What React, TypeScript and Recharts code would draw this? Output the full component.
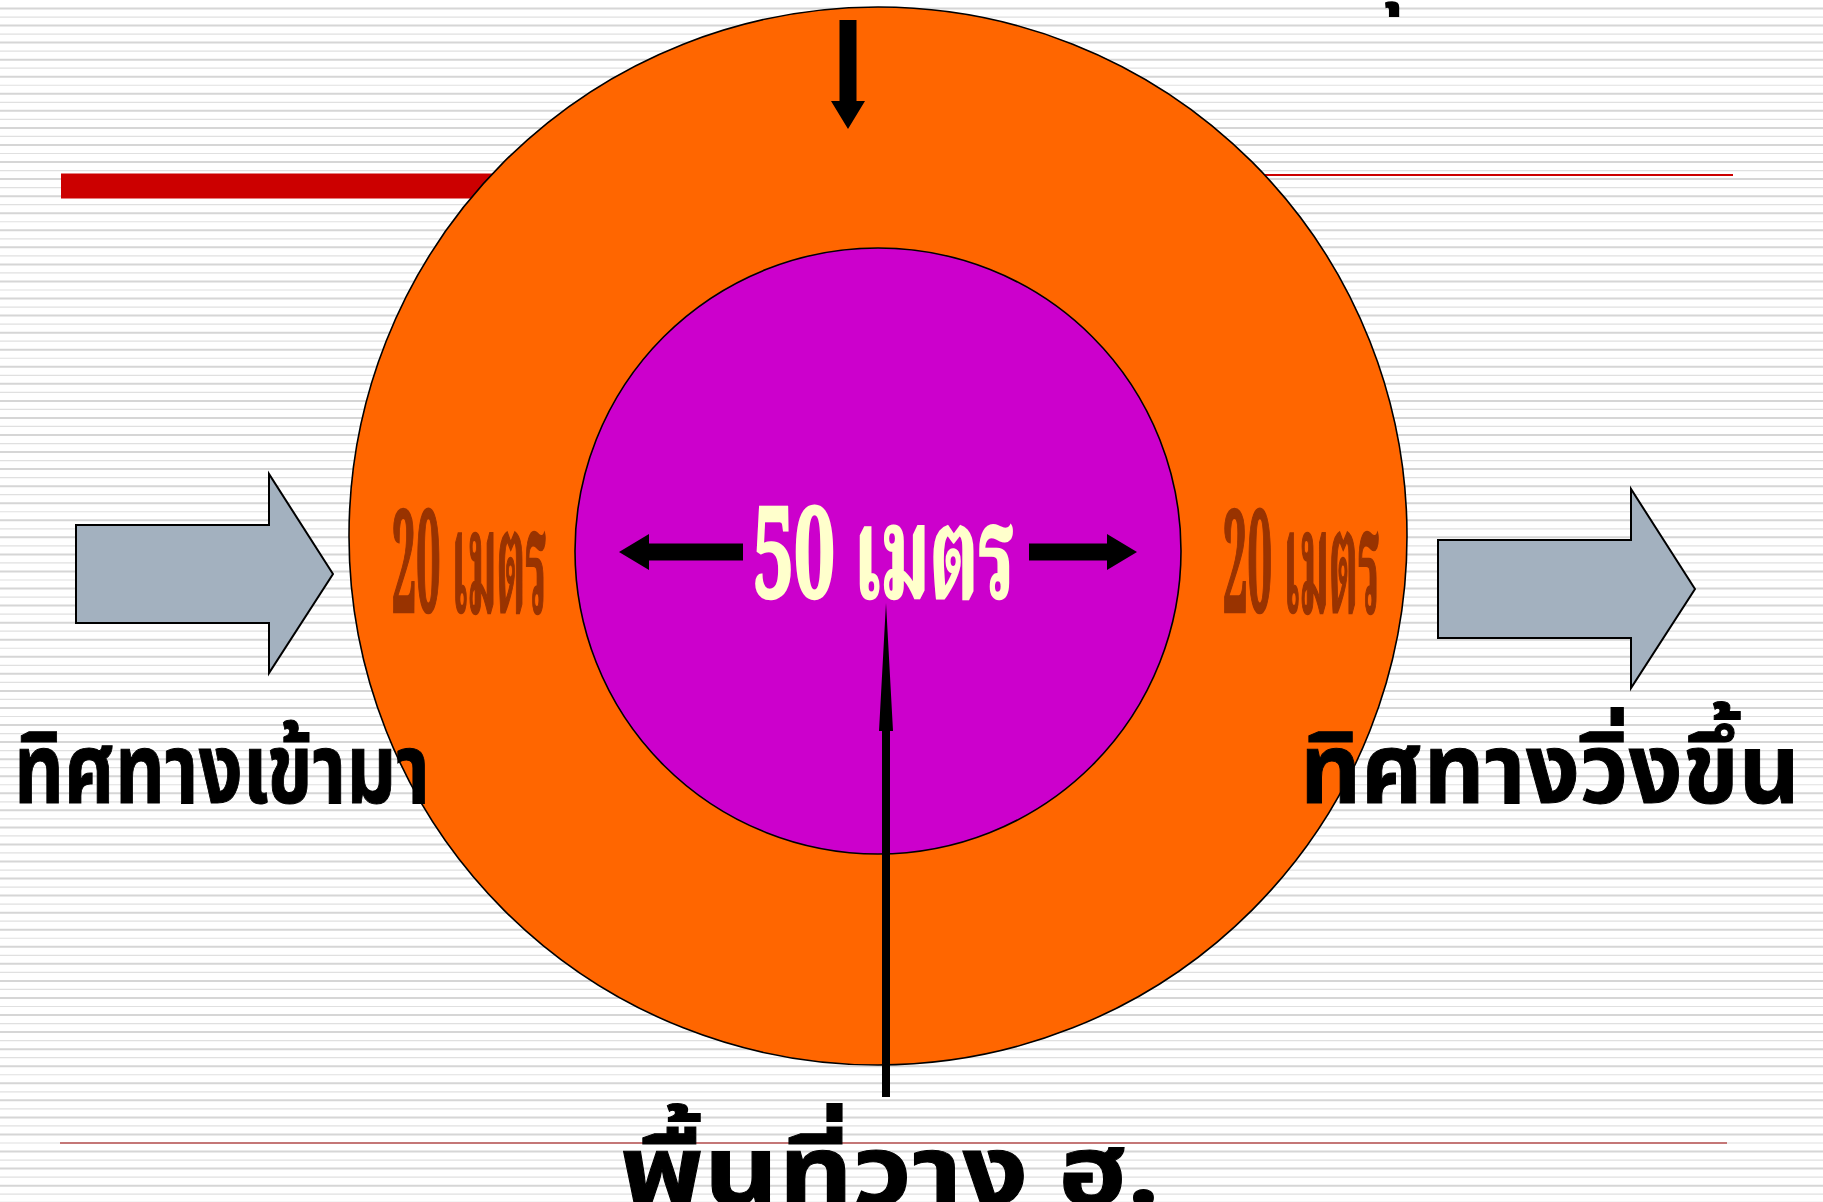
import { CartesianGrid, ComposedChart, Line, Scatter, XAxis, YAxis } from 'recharts';

const W = 1823;
const H = 1202;

// ring centres (axis units == px here)
const rings = [
  { x: 878, y: 536, ring: 'outer' },
  { x: 878, y: 551, ring: 'inner' },
];

const redBar = [{ x: 61, y: 186 }, { x: 700, y: 186 }];
const redThin = [{ x: 1000, y: 175 }, { x: 1733, y: 175 }];
const baseLine = [{ x: 60, y: 1143 }, { x: 1727, y: 1143 }];

// gray block arrows, tip positions
const blockArrows = [
  { x: 333, y: 574 },
  { x: 1695, y: 589 },
];

// black arrows: tip point + direction
const arrows = [
  { x: 848, y: 129, dir: 'down' },
  { x: 619, y: 552, dir: 'left' },
  { x: 1137, y: 552, dir: 'right' },
  { x: 886, y: 603, dir: 'up' },
];

const mainLabels = ['ทิศทางเข้ามา', 'ทิศทางวิ่งขึ้น', 'พื้นที่วาง ฮ.'];
const measureLabels = ['20 เมตร', '50 เมตร', '20 เมตร'];

const texts = [
  { x: 14, y: 803, text: mainLabels[0], kind: 'main', w: 416 },
  { x: 1300, y: 803, text: mainLabels[1], kind: 'main', w: 500 },
  { x: 620, y: 1205, text: mainLabels[2], kind: 'main', w: 540 },
  { x: 392, y: 612, text: measureLabels[0], kind: 'ring', w: 155 },
  { x: 753, y: 598, text: measureLabels[1], kind: 'center', w: 262 },
  { x: 1223, y: 612, text: measureLabels[2], kind: 'ring', w: 157 },
  { x: 1354, y: -4, text: 'ดุ', kind: 'cut', w: 0 },
];

const stripeYs = Array.from({ length: 141 }, (_, i) => 8.5 + i * 8.53);

const THAI = "Tahoma, 'Noto Sans Thai', 'Noto Sans Thai UI', Loma, Garuda, 'Noto Sans', sans-serif";
const THAI_SERIF = "'Angsana New', 'Noto Serif Thai', 'Noto Sans Thai', Norasi, 'DejaVu Serif', serif";

const textStyle: Record<string, any> = {
  main: { fontSize: 98, fontWeight: 700, fill: '#000', fontFamily: THAI, stroke: '#000', strokeWidth: 1 },
  ring: { fontSize: 142, fontWeight: 700, fill: '#993300', fontFamily: THAI_SERIF, stroke: '#993300', strokeWidth: 2.5 },
  center: { fontSize: 128, fontWeight: 700, fill: '#ffffcc', fontFamily: THAI_SERIF, stroke: '#ffffcc', strokeWidth: 2.5 },
  cut: { fontSize: 80, fontWeight: 700, fill: '#000', fontFamily: THAI },
};

// shaft length / thickness, head length / half width
const arrowSize: Record<string, { shaft: number; thick: number; len: number; half: number }> = {
  down: { shaft: 81, thick: 17, len: 28, half: 17 },
  left: { shaft: 94, thick: 17, len: 30, half: 18 },
  right: { shaft: 78, thick: 17, len: 30, half: 18 },
  up: { shaft: 366, thick: 8, len: 128, half: 7 },
};

function RingShape(props: any) {
  const { cx, cy, payload } = props;
  const outer = payload.ring === 'outer';
  return (
    <circle
      cx={cx}
      cy={cy}
      r={outer ? 529 : 303}
      fill={outer ? '#ff6600' : '#cc00cc'}
      stroke="#000"
      strokeWidth={1.6}
    />
  );
}

function BlockArrow(props: any) {
  const { cx, cy } = props;
  const pts = [
    [0, 0],
    [-64, -100],
    [-64, -49],
    [-257, -49],
    [-257, 49],
    [-64, 49],
    [-64, 99],
  ]
    .map(([dx, dy]) => `${cx + dx},${cy + dy}`)
    .join(' ');
  return <polygon points={pts} fill="#a3b1bf" stroke="#000" strokeWidth={2} />;
}

function ArrowShape(props: any) {
  const { cx, cy, payload } = props;
  const s = arrowSize[payload.dir];
  const t = s.thick / 2;
  // local frame: tip at origin, arrow pointing to -y (up); rotate for the others
  const local = [
    [0, 0],
    [s.half, s.len],
    [t, s.len],
    [t, s.len + s.shaft],
    [-t, s.len + s.shaft],
    [-t, s.len],
    [-s.half, s.len],
  ];
  const rot: Record<string, (p: number[]) => number[]> = {
    up: ([a, b]) => [a, b],
    down: ([a, b]) => [a, -b],
    left: ([a, b]) => [b, a],
    right: ([a, b]) => [-b, a],
  };
  const pts = local
    .map(rot[payload.dir])
    .map(([dx, dy]) => `${cx + dx},${cy + dy}`)
    .join(' ');
  return <polygon points={pts} fill="#000" />;
}

function TextShape(props: any) {
  const { cx, cy, payload } = props;
  const st = textStyle[payload.kind];
  const extra = payload.w ? { textLength: payload.w, lengthAdjust: 'spacingAndGlyphs' } : {};
  return (
    <text x={cx} y={cy} {...st} {...extra}>
      {payload.text}
    </text>
  );
}

export default function App() {
  return (
    <div style={{ position: 'absolute', left: 0, top: 0, width: W, height: H, background: '#fff', overflow: 'hidden' }}>
      <ComposedChart width={W} height={H} margin={{ top: 0, right: 0, bottom: 0, left: 0 }}>
        <XAxis type="number" dataKey="x" domain={[0, W]} hide allowDataOverflow />
        <YAxis type="number" dataKey="y" domain={[0, H]} reversed hide allowDataOverflow />
        <CartesianGrid
          vertical={false}
          horizontalPoints={stripeYs}
          horizontal={(p: any) => (
            <line
              key={p.key ?? p.index}
              x1={0}
              x2={W}
              y1={p.y1}
              y2={p.y2}
              stroke={p.index % 2 === 0 ? '#d6d6d6' : '#e0e0e0'}
              strokeWidth={p.index % 2 === 0 ? 2 : 1.2}
            />
          )}
        />
        <Line data={redBar} dataKey="y" stroke="#cc0000" strokeWidth={25} dot={false} isAnimationActive={false} />
        <Line data={redThin} dataKey="y" stroke="#cc0000" strokeWidth={2} dot={false} isAnimationActive={false} />
        <Line data={baseLine} dataKey="y" stroke="#990000" strokeWidth={1.2} dot={false} isAnimationActive={false} />
        <Scatter data={rings} shape={RingShape} isAnimationActive={false} />
        <Scatter data={blockArrows} shape={BlockArrow} isAnimationActive={false} />
        <Scatter data={arrows} shape={ArrowShape} isAnimationActive={false} />
        <Scatter data={texts} shape={TextShape} isAnimationActive={false} />
      </ComposedChart>
    </div>
  );
}
